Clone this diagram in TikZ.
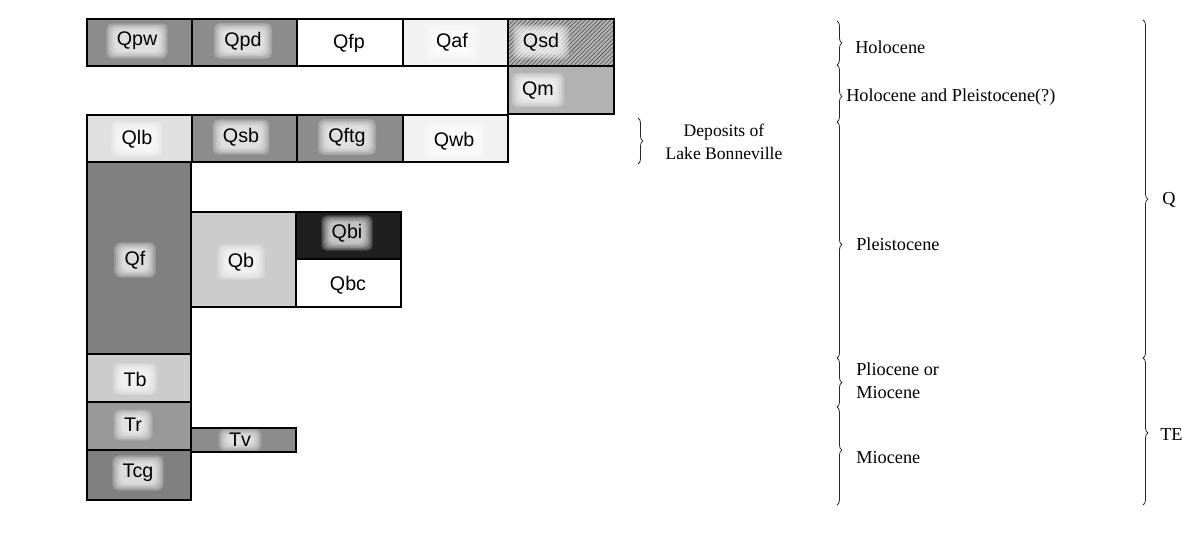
\documentclass[tikz,border=0pt]{standalone}
\usepackage{fontspec}
\setmainfont{Liberation Serif}
\newfontfamily\labelfont{Liberation Sans}
\usetikzlibrary{decorations.pathreplacing,patterns}

% map-unit fills
\definecolor{unitdark}{gray}{0.55}
\definecolor{unitdeep}{gray}{0.50}
\definecolor{unitmid}{gray}{0.60}
\definecolor{unitgray}{gray}{0.70}
\definecolor{unitpale}{gray}{0.80}
\definecolor{unitlight}{gray}{0.88}
\definecolor{unitfaint}{gray}{0.95}
\definecolor{unitblack}{gray}{0.12}

\pgfdeclarelayer{fills}
\pgfdeclarelayer{glow}
\pgfsetlayers{fills,glow,main}

% unit symbol on a soft white glow (stacked translucent boxes under the text)
\newcommand\unitlabel[4][0pt]{%
  \node[lbl] (#2) at #3 {#4};
  \begin{pgfonlayer}{glow}
    \foreach \k in {1,...,6}{%
      \fill[white,opacity=0.2,rounded corners=4pt]
        ([shift={(-\k*1.2pt,-\k*1pt+#1)}]#2.south west) rectangle
        ([shift={(\k*1.2pt,\k*1pt-#1)}]#2.north east);}
  \end{pgfonlayer}}

\begin{document}
\begin{tikzpicture}[x=0.025cm,y=-0.025cm,
  unit/.style={draw=black,line width=0.8pt},
  lbl/.style={font=\labelfont\fontsize{14}{16}\selectfont,inner sep=0pt},
  era/.style={font=\fontsize{13}{16.5}\selectfont,anchor=west,inner sep=0pt,align=left},
  agebrace/.style={decorate,draw=black!85,line width=0.55pt,
    decoration={brace,amplitude=3.5pt,aspect=#1}},
  agebrace/.default=0.5]

\begin{pgfonlayer}{fills}
\fill[white] (0,0) rectangle (1182,538);
% Holocene row
\fill[unitdark]  (87,19) rectangle (192,66);
\fill[unitdark]  (192,19) rectangle (297,66);
\fill[unitfaint] (403,19) rectangle (508,66);
\fill[unitgray]  (508,19) rectangle (614,66);
\fill[pattern=north east lines,pattern color=black!70] (508,19) rectangle (614,66);
% Holocene and Pleistocene(?)
\fill[unitgray]  (508,66) rectangle (614,114);
% Lake Bonneville row
\fill[unitlight] (87,115) rectangle (192,162);
\fill[unitdark]  (192,115) rectangle (297,162);
\fill[unitdark]  (297,115) rectangle (403,162);
\fill[unitfaint] (403,115) rectangle (508,162);
% Pleistocene
\fill[unitdeep]  (87,162) rectangle (191,354);
\fill[unitpale]  (191,212) rectangle (296,307);
\fill[unitblack] (296,212) rectangle (401,259);
% Tertiary
\fill[unitpale]  (87,354) rectangle (191,402);
\fill[unitmid]   (87,402) rectangle (191,450);
\fill[unitdeep]  (87,450) rectangle (191,500);
\fill[unitdark]  (191,428) rectangle (296,452);
\end{pgfonlayer}
\useasboundingbox (0,0) rectangle (1182,538);

% ---- unit symbols ----
\unitlabel{qpw}{(137,41)}{Qpw}
\unitlabel{qpd}{(243,41)}{Qpd}
\unitlabel{qfp}{(349,43)}{Qfp}
\unitlabel{qaf}{(452,42)}{Qaf}
\unitlabel{qsd}{(541,42)}{Qsd}
\unitlabel{qm}{(538,90)}{Qm}
\unitlabel{qlb}{(137,139)}{Qlb}
\unitlabel{qsb}{(241,137)}{Qsb}
\unitlabel{qftg}{(347,137)}{Qftg}
\unitlabel{qwb}{(454,141)}{Qwb}
\unitlabel{qf}{(135,260)}{Qf}
\unitlabel{qb}{(241,262)}{Qb}
\unitlabel{qbi}{(347,233)}{Qbi}
\unitlabel{qbc}{(348,285)}{Qbc}
\unitlabel{tb}{(135,379)}{Tb}
\unitlabel{tr}{(133,425)}{Tr}
\unitlabel{tcg}{(138,473)}{Tcg}
\unitlabel[3pt]{tv}{(240,440)}{Tv}

% ---- unit outlines ----
\draw[unit] (87,19) rectangle (192,66);
\draw[unit] (192,19) rectangle (297,66);
\draw[unit] (297,19) rectangle (403,66);
\draw[unit] (403,19) rectangle (508,66);
\draw[unit] (508,19) rectangle (614,66);
\draw[unit] (508,66) rectangle (614,114);
\draw[unit] (87,115) rectangle (192,162);
\draw[unit] (192,115) rectangle (297,162);
\draw[unit] (297,115) rectangle (403,162);
\draw[unit] (403,115) rectangle (508,162);
\draw[unit] (87,162) rectangle (191,354);
\draw[unit] (191,212) rectangle (296,307);
\draw[unit] (296,212) rectangle (401,259);
\draw[unit] (296,259) rectangle (401,307);
\draw[unit] (87,354) rectangle (191,402);
\draw[unit] (87,402) rectangle (191,450);
\draw[unit] (87,450) rectangle (191,500);
\draw[unit] (191,428) rectangle (296,452);
\draw[line width=2pt] (296,428) -- (296,452);

% ---- Lake Bonneville bracket ----
\coordinate (lbtop) at (638,118);
\coordinate (lbbot) at (638,164);
\draw[agebrace] (lbtop) -- (lbbot);
\node[font=\fontsize{12.5}{16}\selectfont,align=center,inner sep=0pt] (lbtext) at (724,142)
  {Deposits of\\Lake Bonneville};

% ---- series brackets ----
\coordinate (s0) at (837,21);
\coordinate (s1) at (837,65);
\coordinate (s2) at (837,122);
\coordinate (s3) at (837,358);
\coordinate (s4) at (837,407);
\coordinate (s5) at (837,505);
\draw[agebrace]       (s0) -- (s1);
\draw[agebrace=0.55]  (s1) -- (s2);
\draw[agebrace=0.52]  (s2) -- (s3);
\draw[agebrace]       (s3) -- (s4);
\draw[agebrace=0.44]  (s4) -- (s5);
\node[era] (holo)  at (855,47)  {Holocene};
\node[era] (holpl) at (846,97)  {Holocene and Pleistocene(?)};
\node[era] (pleis) at (856,244) {Pleistocene};
\node[era] (plmio) at (856,381) {Pliocene or\\Miocene};
\node[era] (mio)   at (856,458) {Miocene};

% ---- system brackets ----
\coordinate (y0) at (1143,20);
\coordinate (y1) at (1143,358);
\coordinate (y2) at (1143,505);
\draw[agebrace=0.53] (y0) -- (y1);
\draw[agebrace=0.51] (y1) -- (y2);
\node[era] (quat) at (1162,200) {Q};
\node[era] (tert) at (1160,435) {TE};

\end{tikzpicture}
\end{document}
